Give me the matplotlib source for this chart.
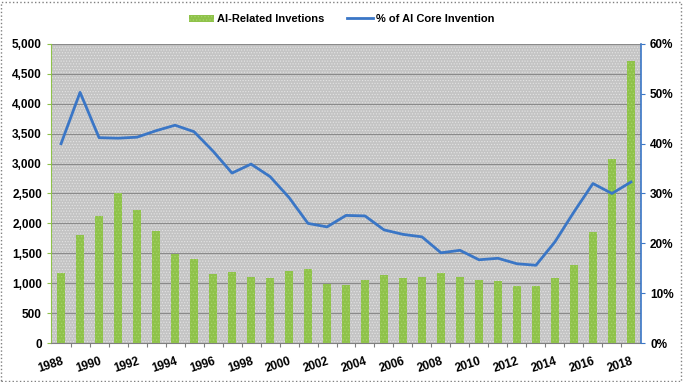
import matplotlib.pyplot as plt
from matplotlib.ticker import FuncFormatter, MultipleLocator
from matplotlib.patches import Rectangle

years = list(range(1988, 2019))
inventions = [1170, 1800, 2130, 2500, 2230, 1880, 1490, 1400, 1150, 1180,
              1100, 1090, 1210, 1240, 990, 970, 1050, 1130, 1080, 1100,
              1170, 1100, 1050, 1030, 950, 960, 1080, 1300, 1860, 3070, 4720]
core_pct = [40.0, 50.3, 41.2, 41.1, 41.3, 42.6, 43.7, 42.4, 38.5, 34.1,
            35.9, 33.4, 29.2, 24.0, 23.3, 25.6, 25.5, 22.7, 21.8, 21.3,
            18.1, 18.6, 16.7, 17.0, 15.9, 15.6, 20.3, 26.3, 32.0, 30.0, 32.3]

plt.rcParams['font.family'] = ['Liberation Sans', 'DejaVu Sans']
plt.rcParams['hatch.linewidth'] = 0.5

fig = plt.figure(figsize=(6.83, 3.82), dpi=100)
ax = fig.add_axes([51/683, 1 - 343/382, 590/683, 299/382])
ax.set_facecolor('#c4c4c4')
# dotted background texture
ax.add_patch(Rectangle((0, 0), 1, 1, transform=ax.transAxes, facecolor='none',
                       edgecolor='#e4e4e4', hatch='......', linewidth=0, zorder=0))

ax.bar(years, inventions, width=0.42, color='#8fc24a', edgecolor='#a6d46a',
       linewidth=0, hatch='.....', zorder=3, label='AI-Related Invetions')
ax.set_xlim(1987.47, 2018.53)
ax.set_ylim(0, 5000)
ax.yaxis.set_major_locator(MultipleLocator(500))
ax.yaxis.set_major_formatter(FuncFormatter(lambda v, p: f'{int(v):,}'))
ax.grid(axis='y', color='#8a8a8a', linewidth=0.8, zorder=1)

# ticks between categories, labels under every other year
ax.set_xticks([y - 0.5 for y in years[1:]])
ax.set_xticklabels([])
ax.set_xticks(years[::2], minor=True)
ax.set_xticklabels([str(y) for y in years[::2]], minor=True, rotation=18,
                   ha='right', rotation_mode='anchor', fontweight='bold', fontsize=8.5)
ax.tick_params(axis='x', which='major', direction='out', length=3, color='#808080')
ax.tick_params(axis='x', which='minor', length=0, pad=9)
ax.tick_params(axis='y', labelsize=8.5, length=3, color='#8fc24a')
for t in ax.get_yticklabels():
    t.set_fontweight('bold')
for s in ['top', 'right']:
    ax.spines[s].set_visible(False)
ax.spines['left'].set_color('#8fc24a')
ax.spines['bottom'].set_color('#808080')

ax2 = ax.twinx()
ax2.plot(years, core_pct, color='#3a76c6', linewidth=2, zorder=4,
         label='% of AI Core Invention')
ax2.set_ylim(0, 60)
ax2.yaxis.set_major_locator(MultipleLocator(10))
ax2.yaxis.set_major_formatter(FuncFormatter(lambda v, p: f'{int(v)}%'))
ax2.tick_params(axis='y', labelsize=8.5, length=3, color='#3a76c6')
for t in ax2.get_yticklabels():
    t.set_fontweight('bold')
for s in ['top', 'left', 'bottom']:
    ax2.spines[s].set_visible(False)
ax2.spines['right'].set_color('#3a76c6')
ax2.spines['right'].set_linewidth(1.2)

h1, l1 = ax.get_legend_handles_labels()
h2, l2 = ax2.get_legend_handles_labels()
fig.legend(h1 + h2, l1 + l2, loc='center', bbox_to_anchor=(0.5, 1 - 19/382),
           ncol=2, frameon=False, prop={'weight': 'bold', 'size': 8},
           handlelength=2.3, handleheight=0.6, handletextpad=0.3, columnspacing=2.0)

fig.patches.append(Rectangle((0.002, 0.003), 0.995, 0.993, transform=fig.transFigure,
                             fill=False, edgecolor='#808080', linestyle=':', linewidth=1))

fig.savefig('out.png', dpi=100)
